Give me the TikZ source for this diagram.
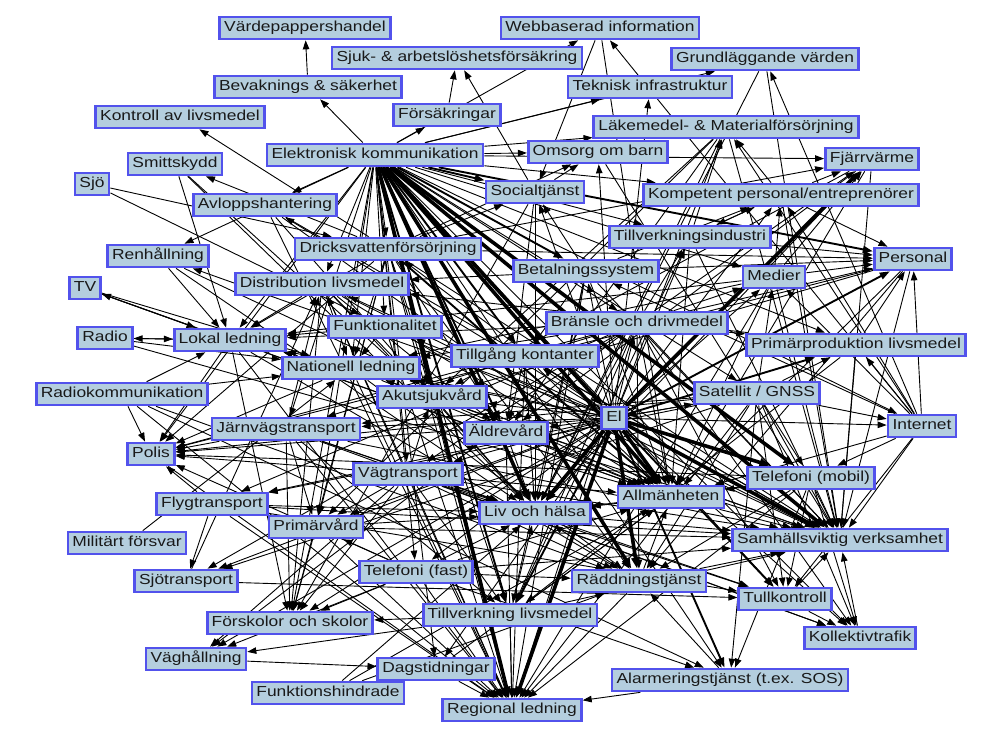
\documentclass[tikz,border=0pt]{standalone}
\usepackage{fontspec}
\setmainfont{Liberation Sans}[FakeStretch=1.2]
\usetikzlibrary{arrows.meta,backgrounds}
\definecolor{boxfill}{RGB}{180,206,222}
\definecolor{boxline}{RGB}{82,82,236}
\tikzset{
  box/.style={draw=boxline,fill=boxfill,line width=2.7pt,inner xsep=4.5pt,inner ysep=0pt,
    minimum height=22pt,text height=10.5pt,text depth=3pt,
    font=\fontsize{14.5}{16}\selectfont,text=black!90},
  edge/.style={line width=0.9pt,-{Triangle[length=9pt,width=6.5pt]}},
  midedge/.style={line width=1.9pt,-{Triangle[length=10pt,width=7pt]}},
  thickedge/.style={line width=3.6pt,-{Triangle[length=11pt,width=8pt]}}
}
\begin{document}
\begin{tikzpicture}[x=1pt,y=-1pt]
\useasboundingbox (0,0) rectangle (991,730);
\node[box] (vph) at (305,28) {Värdepappershandel};
\node[box] (web) at (600,28) {Webbaserad information};
\node[box] (sjuk) at (457,58) {Sjuk- \& arbetslöshetsförsäkring};
\node[box] (grund) at (765,59) {Grundläggande värden};
\node[box] (bev) at (308,87) {Bevaknings \& säkerhet};
\node[box] (tek) at (650,87) {Teknisk infrastruktur};
\node[box] (kon) at (180,117) {Kontroll av livsmedel};
\node[box] (fors) at (447,115) {Försäkringar};
\node[box] (lak) at (726,127) {Läkemedel- \& Materialförsörjning};
\node[box] (ek) at (375,155) {Elektronisk kommunikation};
\node[box] (oms) at (598,152) {Omsorg om barn};
\node[box] (smi) at (175,164) {Smittskydd};
\node[box] (fjv) at (872,159) {Fjärrvärme};
\node[box] (sjo) at (92,184) {Sjö};
\node[box] (soc) at (535,192) {Socialtjänst};
\node[box] (komp) at (781,195) {Kompetent personal/entreprenörer};
\node[box] (avl) at (265,205) {Avloppshantering};
\node[box] (tind) at (690,237) {Tillverkningsindustri};
\node[box] (dvf) at (388,249) {Dricksvattenförsörjning};
\node[box] (ren) at (158,256) {Renhållning};
\node[box] (pers) at (913,259) {Personal};
\node[box] (bet) at (586,271) {Betalningssystem};
\node[box] (med) at (774,277) {Medier};
\node[box] (tv) at (85,288) {TV};
\node[box] (dist) at (322,284) {Distribution livsmedel};
\node[box] (fun) at (385,327) {Funktionalitet};
\node[box] (bds) at (637,323) {Bränsle och drivmedel};
\node[box] (radio) at (105,338) {Radio};
\node[box] (lok) at (230,340) {Lokal ledning};
\node[box] (ppl) at (856,345) {Primärproduktion livsmedel};
\node[box] (tk) at (525,356) {Tillgång kontanter};
\node[box] (nat) at (351,368) {Nationell ledning};
\node[box] (rk) at (122,394) {Radiokommunikation};
\node[box] (aku) at (432,397) {Akutsjukvård};
\node[box] (sat) at (757,393) {Satellit / GNSS};
\node[box] (el) at (614,418) {El};
\node[box] (int) at (922,426) {Internet};
\node[box] (jarn) at (286,429) {Järnvägstransport};
\node[box] (ald) at (506,433) {Äldrevård};
\node[box] (pol) at (151,454) {Polis};
\node[box] (vag) at (408,474) {Vägtransport};
\node[box] (mob) at (811,478) {Telefoni (mobil)};
\node[box] (fly) at (212,504) {Flygtransport};
\node[box] (allm) at (671,497) {Allmänheten};
\node[box] (liv) at (535,513) {Liv och hälsa};
\node[box] (prim) at (316,527) {Primärvård};
\node[box] (mil) at (127,543) {Militärt försvar};
\node[box] (sv) at (840,540) {Samhällsviktig verksamhet};
\node[box] (sjot) at (186,581) {Sjötransport};
\node[box] (fast) at (416,572) {Telefoni (fast)};
\node[box] (rtj) at (639,581) {Räddningstjänst};
\node[box] (tull) at (785,599) {Tullkontroll};
\node[box] (tlm) at (510,615) {Tillverkning livsmedel};
\node[box] (fsk) at (290,623) {Förskolor och skolor};
\node[box] (koll) at (860,638) {Kollektivtrafik};
\node[box] (vagh) at (196,659) {Väghållning};
\node[box] (dag) at (436,669) {Dagstidningar};
\node[box] (alarm) at (730,680) {Alarmeringstjänst (t.ex. SOS)};
\node[box] (fhin) at (328,693) {Funktionshindrade};
\node[box] (reg) at (512,710) {Regional ledning};
\begin{scope}[on background layer]
\foreach \a/\b in {ek/bev,ek/fors,bev/vph,fors/sjuk,soc/sjuk,dvf/kon,dvf/smi,ek/web,ek/oms,ek/komp,ek/fjv,ek/tind,ek/med,ek/bds,ek/ppl,ek/sat,ek/dvf,ek/dist,ek/fun,ek/nat,ek/lok,ek/avl,ek/pol,ek/jarn,ek/vag,ek/prim,ek/fast,ek/fsk,ek/dag,ek/alarm,ek/tull,ek/koll,ek/int,ek/ren,ek/grund,ek/lak,ek/tek,
el/lak,el/tek,el/komp,el/tind,el/med,el/bds,el/sat,el/int,el/koll,el/fsk,el/fast,el/prim,el/vag,el/jarn,el/ald,el/aku,el/nat,el/lok,el/pol,el/fun,el/tk,el/bet,el/dvf,el/avl,el/dist,el/soc,el/oms,el/ren,el/fly,el/vagh,el/dag,el/sjot,
dvf/lok,dvf/nat,dvf/aku,dvf/sv,dvf/reg,dvf/rtj,dvf/tlm,dvf/ald,dvf/prim,dvf/fsk,dvf/pol,dvf/soc,dvf/oms,dvf/pers,dvf/fjv,
bds/vag,bds/jarn,bds/fly,bds/sjot,bds/allm,bds/sv,bds/rtj,bds/tull,bds/koll,bds/reg,bds/liv,bds/pol,bds/ppl,bds/tlm,bds/med,bds/pers,bds/fjv,bds/tind,bds/nat,bds/lok,bds/vagh,
bet/tk,bet/allm,bet/sv,bet/liv,bet/tlm,bet/soc,bet/pers,bet/reg,bet/dist,bet/komp,
tk/allm,tk/liv,tk/reg,tk/sv,tk/ald,
sat/mob,sat/int,sat/sv,sat/rtj,sat/alarm,sat/tull,sat/koll,sat/reg,sat/pol,sat/jarn,sat/fly,sat/el,sat/med,sat/ppl,sat/sjot,
int/mob,int/sv,int/bet,int/med,int/allm,int/tull,int/komp,int/pers,int/lak,int/grund,int/ppl,int/web,
mob/sv,mob/allm,mob/rtj,mob/alarm,mob/reg,mob/liv,mob/tull,mob/koll,mob/pol,
fast/sv,fast/rtj,fast/alarm,fast/reg,fast/liv,fast/allm,fast/pol,fast/prim,fast/fsk,fast/vagh,
rk/pol,rk/rtj,rk/nat,rk/lok,rk/reg,rk/alarm,
radio/lok,lok/radio,radio/allm,radio/nat,tv/lok,lok/tv,tv/nat,tv/allm,
med/allm,med/pers,med/komp,med/fjv,med/lok,med/nat,med/reg,med/sv,dag/reg,dag/allm,
vag/pol,vag/rtj,vag/liv,vag/allm,vag/sv,vag/reg,vag/tlm,vag/dist,vag/prim,vag/fsk,vag/vagh,vag/tull,vag/koll,vag/aku,vag/ald,
jarn/pol,jarn/sv,jarn/reg,jarn/liv,jarn/dist,jarn/tlm,jarn/koll,jarn/tull,jarn/fsk,jarn/prim,
fly/pol,fly/sv,fly/reg,fly/liv,fly/sjot,fly/tull,sjot/tull,sjot/dist,mil/nat,sjo/dvf,sjo/fun,
ren/lok,ren/allm,ren/liv,smi/liv,smi/aku,smi/lok,avl/liv,avl/sv,avl/reg,avl/allm,
dist/lok,dist/nat,dist/liv,dist/allm,dist/sv,dist/reg,dist/fsk,dist/ald,dist/aku,
fun/nat,fun/lok,fun/reg,fun/sv,nat/reg,nat/pol,nat/lok,nat/rtj,nat/sv,nat/allm,
lok/reg,lok/pol,lok/rtj,lok/fsk,lok/allm,aku/liv,aku/reg,aku/sv,aku/nat,aku/allm,
ald/liv,ald/reg,ald/sv,prim/liv,prim/fsk,prim/reg,prim/sv,
tlm/fsk,tlm/vagh,tlm/reg,tlm/liv,tlm/sv,tlm/allm,vagh/dag,fhin/liv,fhin/allm,fhin/rtj,pol/reg,
rtj/reg,alarm/rtj,alarm/reg,rtj/sv,rtj/allm,rtj/liv,tull/koll,tull/sv,koll/sv,allm/sv,allm/liv,liv/sv,
ppl/tlm,ppl/sv,ppl/dist,ppl/pers,tind/sv,tind/tlm,tind/allm,tind/pers,tind/lak,tind/komp,
lak/aku,lak/prim,lak/ald,lak/liv,lak/sv,komp/fjv,komp/pers,komp/sv,komp/tind,komp/lak,
fjv/liv,fjv/allm,fjv/sv,fjv/ald,fjv/aku,pers/sv,pers/allm,pers/rtj,pers/aku,pers/pol,
oms/sv,soc/oms,soc/ald,soc/fsk,soc/liv,web/allm,web/soc,grund/sv,grund/liv}
  \draw[edge] (\a) -- (\b);
\foreach \a/\b in {ek/bet,ek/tk,ek/soc,ek/pers,ek/tlm,ek/ald,ek/aku,el/tull,el/alarm,el/tlm,el/pers,el/ppl,dvf/allm}
  \draw[midedge] (\a) -- (\b);
\foreach \a/\b in {ek/el,ek/sv,ek/allm,ek/liv,ek/reg,ek/rtj,ek/mob,el/sv,el/fjv,el/reg,el/allm,el/rtj,el/liv,el/mob}
  \draw[thickedge] (\a) -- (\b);
\end{scope}
\end{tikzpicture}
\end{document}
